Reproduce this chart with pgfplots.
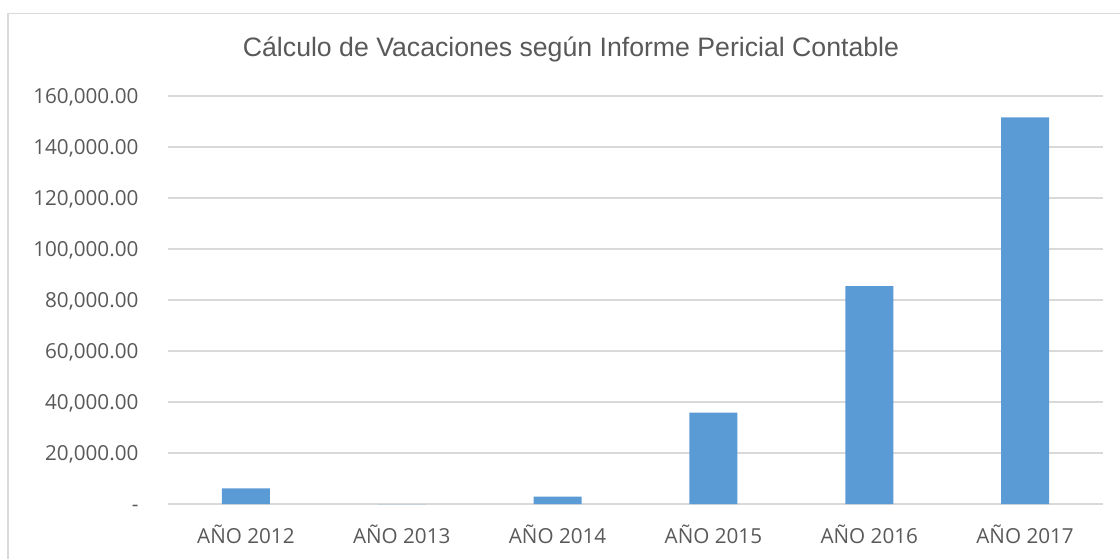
\documentclass[border=0pt]{standalone}
\usepackage{pgfplots}
\pgfplotsset{compat=1.18}
\usepackage{fontspec}
\setmainfont{Open Sans}
\newfontfamily\titlefont{Liberation Sans}
\definecolor{barblue}{HTML}{5B9BD5}
\definecolor{gridgray}{HTML}{D9D9D9}
\definecolor{txtgray}{HTML}{595959}
\begin{document}
\begin{tikzpicture}
\useasboundingbox (0pt,0pt) rectangle (840pt,418.5pt);
\begin{scope}
\clip (0pt,0pt) rectangle (840pt,418.5pt);
\draw[gridgray, line width=1.2pt] (6pt,-20pt) -- (6pt,408.4pt) -- (860pt,408.4pt);
\end{scope}
\node[anchor=base, text=txtgray, font=\titlefont\fontsize{20}{24}\selectfont] at (428.25pt,376pt) {Cálculo de Vacaciones según Informe Pericial Contable};
\begin{axis}[
  at={(126pt,40.5pt)}, anchor=south west,
  scale only axis, width=701.25pt, height=306pt,
  xmin=-0.5, xmax=5.5, ymin=0, ymax=160000,
  scaled y ticks=false,
  axis line style={draw=none}, tick style={draw=none},
  ymajorgrids, grid style={gridgray, line width=1.2pt},
  ytick={0,20000,40000,60000,80000,100000,120000,140000,160000},
  yticklabels={{-},{20,000.00},{40,000.00},{60,000.00},{80,000.00},{100,000.00},{120,000.00},{140,000.00},{160,000.00}},
  xtick={0,1,2,3,4,5},
  xticklabels={AÑO 2012,AÑO 2013,AÑO 2014,AÑO 2015,AÑO 2016,AÑO 2017},
  ticklabel style={text=txtgray, font=\fontsize{15.5}{19}\selectfont, inner sep=0pt},
  yticklabel style={anchor=base east, xshift=-22pt, yshift=-5.5pt},
  xticklabel style={anchor=base, yshift=-25pt},
  ybar, bar width=36pt,
  clip=false,
]
\addplot[fill=barblue, draw=none] coordinates {(0,6100) (1,0) (2,2900) (3,35800) (4,85400) (5,151600)};
\end{axis}
\end{tikzpicture}
\end{document}
